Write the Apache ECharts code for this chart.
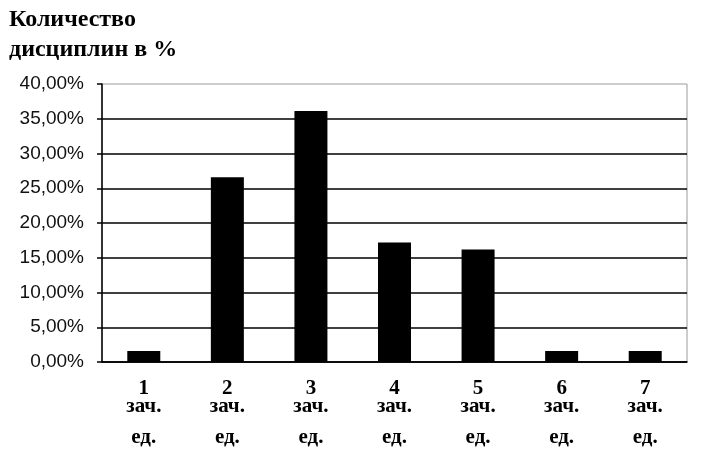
<!DOCTYPE html>
<html>
<head>
<meta charset="utf-8">
<script src="https://cdn.jsdelivr.net/npm/echarts@6/dist/echarts.min.js"></script>
<style>
  html, body { margin: 0; padding: 0; background: #fff; }
  #chart { width: 714px; height: 454px; }
</style>
</head>
<body>
<div id="chart"></div>
<script>
  var categories = ['1', '2', '3', '4', '5', '6', '7'];
  var shares = [1.6, 26.6, 36.1, 17.2, 16.2, 1.6, 1.6];
  var yTicks = { min: 0, max: 40, step: 5 };

  var chart = echarts.init(document.getElementById('chart'));
  chart.setOption({
    animation: false,
    title: {
      text: 'Количество\nдисциплин в %',
      left: 4,
      top: 0,
      textStyle: {
        fontFamily: 'Liberation Serif',
        fontWeight: 'bold',
        fontSize: 24,
        lineHeight: 30,
        color: '#000'
      }
    },
    grid: {
      left: 102,
      right: 27,
      top: 84,
      bottom: 92,
      show: true,
      borderColor: '#9a9a9a',
      borderWidth: 1
    },
    xAxis: {
      type: 'category',
      data: categories,
      axisLine: { lineStyle: { color: '#000', width: 1.5 } },
      axisTick: { length: 6, lineStyle: { color: '#000', width: 1.5 } },
      axisLabel: {
        margin: 18,
        formatter: function (v) {
          return '{a|' + v + '}\n{b|зач.}\n{c|ед.}';
        },
        rich: {
          a: { fontFamily: 'Liberation Serif', fontWeight: 'bold', fontSize: 21, lineHeight: 18, color: '#000' },
          b: { fontFamily: 'Liberation Serif', fontWeight: 'bold', fontSize: 21, lineHeight: 18, color: '#000' },
          c: { fontFamily: 'Liberation Serif', fontWeight: 'bold', fontSize: 21, lineHeight: 44, color: '#000' }
        }
      }
    },
    yAxis: {
      type: 'value',
      min: yTicks.min,
      max: yTicks.max,
      interval: yTicks.step,
      axisLine: { show: true, lineStyle: { color: '#000', width: 1.5 } },
      axisTick: { show: true, length: 5, lineStyle: { color: '#000', width: 1.5 } },
      axisLabel: {
        margin: 18,
        fontFamily: 'Liberation Sans',
        fontSize: 19,
        color: '#111',
        formatter: function (v) {
          return v.toFixed(2).replace('.', ',') + '%';
        }
      },
      splitLine: {
        show: true,
        showMaxLine: false,
        lineStyle: { color: '#000', width: 1.5 }
      }
    },
    series: [{
      type: 'bar',
      data: shares,
      barWidth: 33,
      itemStyle: { color: '#000' }
    }]
  });
</script>
</body>
</html>
